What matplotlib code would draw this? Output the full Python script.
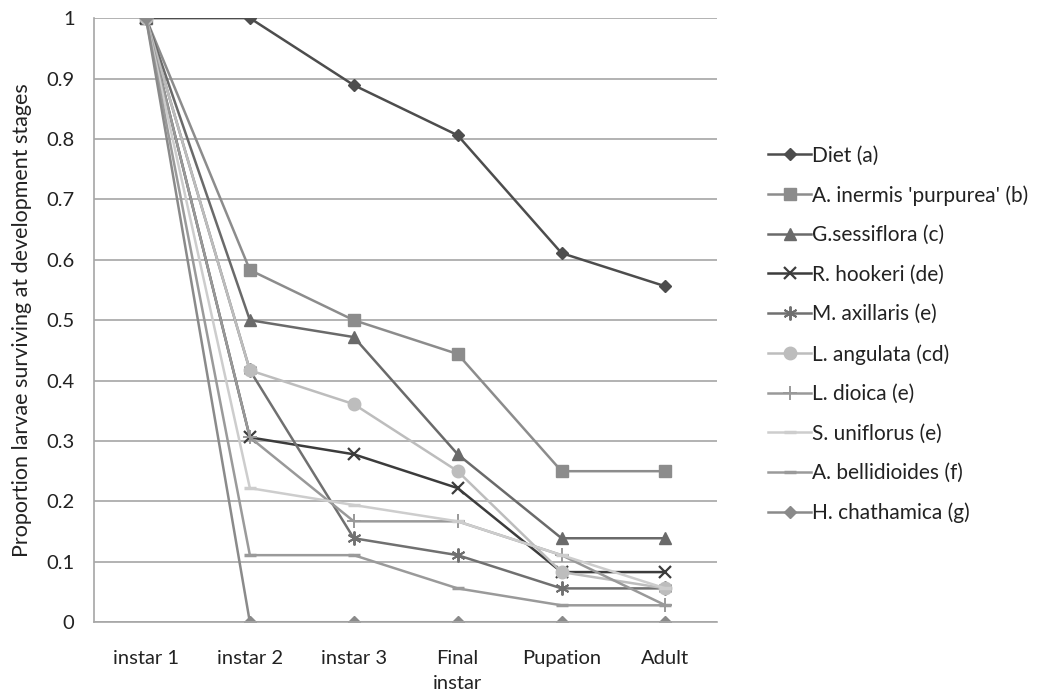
import numpy as np
import matplotlib
matplotlib.use('Agg')
import matplotlib.pyplot as plt

# stages on the x axis
stages = ['instar 1', 'instar 2', 'instar 3', 'Final\ninstar', 'Pupation', 'Adult']

# proportion surviving
diet = [1, 1, 0.889, 0.806, 0.611, 0.556]
a_inermis = [1, 0.583, 0.5, 0.444, 0.25, 0.25]
g_sessiflora = [1, 0.5, 0.472, 0.278, 0.139, 0.139]
r_hookeri = [1, 0.306, 0.278, 0.222, 0.083, 0.083]
m_axillaris = [1, 0.417, 0.139, 0.111, 0.056, 0.056]
l_angulata = [1, 0.417, 0.361, 0.25, 0.083, 0.056]
l_dioica = [1, 0.306, 0.167, 0.167, 0.111, 0.028]
s_uniflorus = [1, 0.222, 0.194, 0.167, 0.111, 0.056]
a_bellidioides = [1, 0.111, 0.111, 0.056, 0.028, 0.028]
h_chathamica = [1, 0, 0, 0, 0, 0]

names = ['Diet (a)', "A. inermis 'purpurea' (b)", 'G.sessiflora (c)', 'R. hookeri (de)',
         'M. axillaris (e)', 'L. angulata (cd)', 'L. dioica (e)', 'S. uniflorus (e)',
         'A. bellidioides (f)', 'H. chathamica (g)']
series = [diet, a_inermis, g_sessiflora, r_hookeri, m_axillaris, l_angulata,
          l_dioica, s_uniflorus, a_bellidioides, h_chathamica]

# (colour, marker, markersize, marker edge width)
styles = [
    ('#4d4d4d', 'D', 6, 1),
    ('#8c8c8c', 's', 8, 1),
    ('#6a6a6a', '^', 8, 1),
    ('#3c3c3c', 'x', 9, 1.6),
    ('#707070', (6, 2, 0), 10, 1.4),
    ('#bdbdbd', 'o', 9, 1),
    ('#999999', '+', 10, 1.4),
    ('#cdcdcd', '_', 8, 2.5),
    ('#9a9a9a', '_', 9, 2.5),
    ('#8a8a8a', 'D', 6, 1),
]

plt.rcParams['font.family'] = ['Lato', 'DejaVu Sans']

fig = plt.figure(figsize=(10.53, 6.96), dpi=100)
ax = fig.add_axes([0.0893, 0.106, 0.592, 0.868])

x = np.arange(len(stages))
for name, y, (c, m, ms, mew) in zip(names, series, styles):
    ax.plot(x, y, color=c, marker=m, markersize=ms, markeredgewidth=mew,
            markerfacecolor=c, markeredgecolor=c, linewidth=1.8, label=name)

ax.set_xlim(-0.5, len(stages) - 0.5)
ax.set_ylim(0, 1)
yt = np.round(np.arange(0, 1.01, 0.1), 1)
ax.set_yticks(yt)
ax.set_yticklabels(['0' if v == 0 else ('1' if v == 1 else str(v)) for v in yt], fontsize=14.5)
ax.set_xticks(x)
ax.set_xticklabels(stages, fontsize=14.5, linespacing=1.6)
ax.tick_params(axis='both', length=0, colors='#222222')
ax.tick_params(axis='x', pad=20)
ax.tick_params(axis='y', pad=14)

ax.grid(True, axis='y', color='#a6a6a6', linewidth=1.2)
ax.set_axisbelow(True)
for s in ['top', 'right']:
    ax.spines[s].set_visible(False)
for s in ['left', 'bottom']:
    ax.spines[s].set_color('#a6a6a6')
    ax.spines[s].set_linewidth(1.2)

ax.set_ylabel('Proportion larvae surviving at development stages', fontsize=15.5,
              color='#222222', labelpad=10)

leg = fig.legend(loc='upper left', bbox_to_anchor=(0.712, 0.818), frameon=False,
                 fontsize=15, handlelength=2.05, labelspacing=0.94, handletextpad=0.05)
for t in leg.get_texts():
    t.set_color('#222222')

fig.savefig('out.png', dpi=100)
